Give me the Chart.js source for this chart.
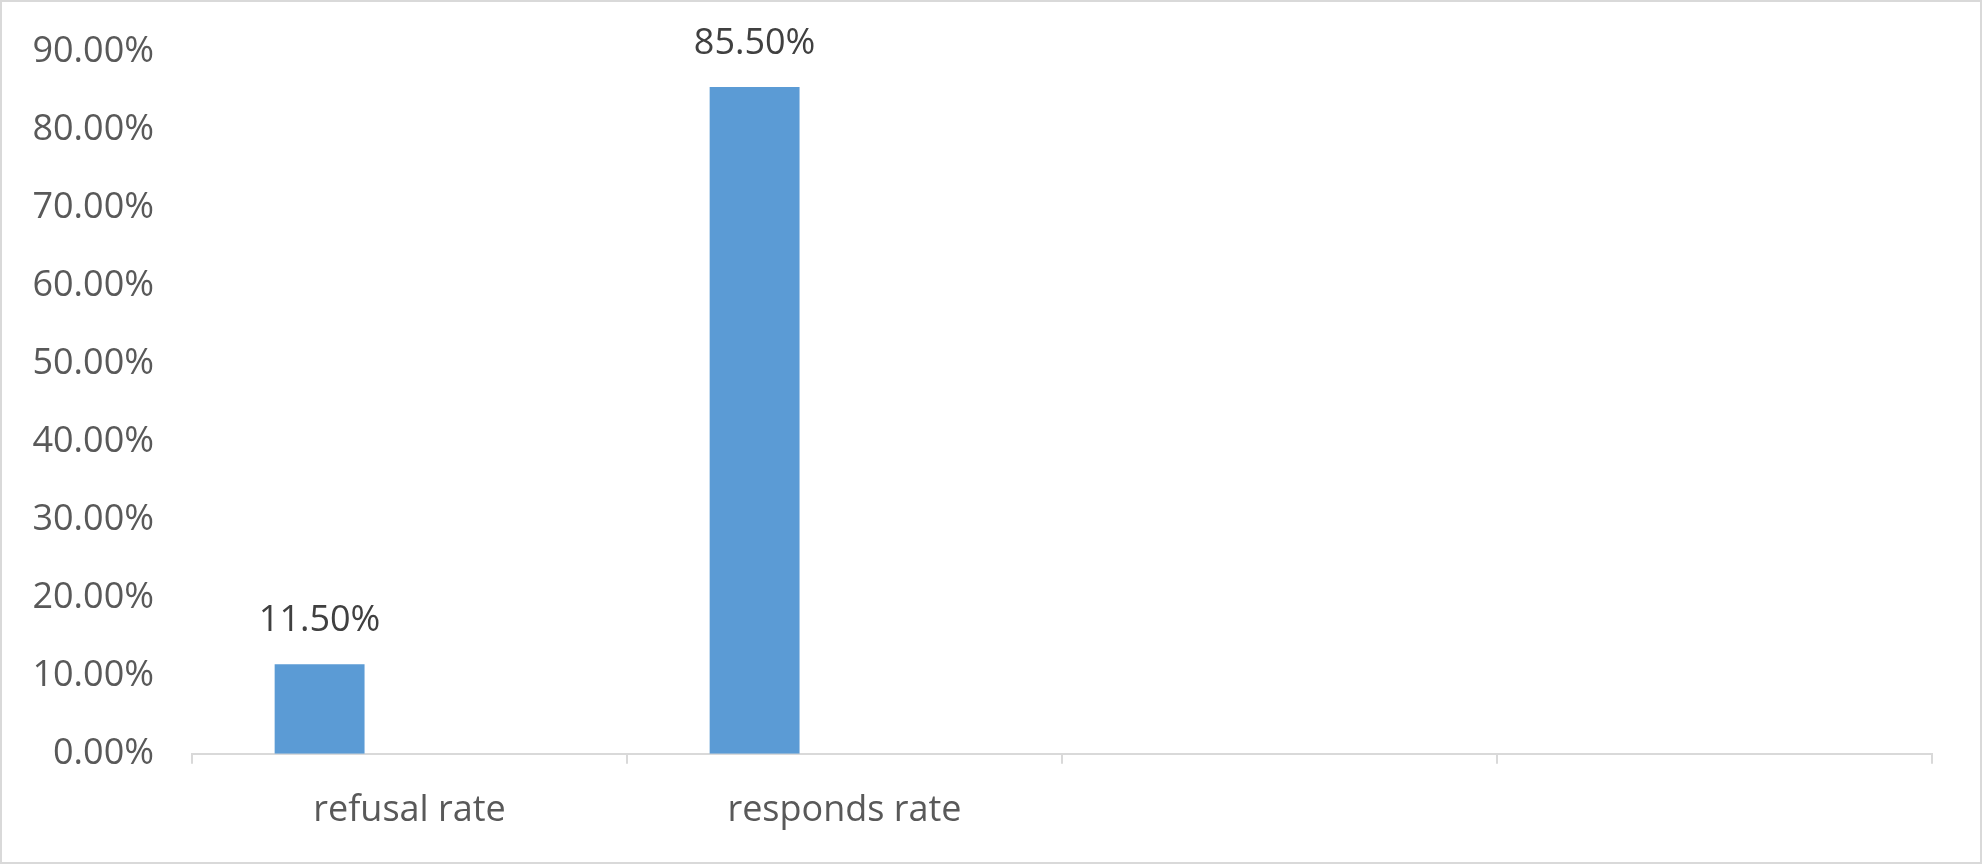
<!DOCTYPE html>
<html>
<head>
<meta charset="utf-8">
<script src="https://cdn.jsdelivr.net/npm/chart.js@4.4.1/dist/chart.umd.min.js"></script>
<style>
  body { margin: 0; background: #fff; }
  #wrap {
    width: 1982px; height: 864px; box-sizing: border-box;
    border: 2px solid #d9d9d9; background: #fff;
  }
  #wrap canvas { display: block; }
</style>
</head>
<body>
<div id="wrap"><canvas id="rate-chart" width="1978" height="860"></canvas></div>
<script>
// chart data
const categories = ['refusal rate', 'responds rate', '', ''];
const rateValues = [0.115, 0.855, null, null];
const emptySeries = [null, null, null, null];
const yTicks = [0, 0.1, 0.2, 0.3, 0.4, 0.5, 0.6, 0.7, 0.8, 0.9];

const barBlue = '#5B9BD5';
const axisGray = '#d9d9d9';
const fontFamily = '"Open Sans", "Noto Sans", sans-serif';

function formatPercent(v) {
  return (v * 100).toFixed(2) + '%';
}

// draws the value above each bar
const barLabels = {
  id: 'barLabels',
  afterDatasetsDraw(chart) {
    const ctx = chart.ctx;
    const meta = chart.getDatasetMeta(0);
    ctx.save();
    ctx.font = '36px ' + fontFamily;
    ctx.fillStyle = '#404040';
    ctx.textAlign = 'center';
    ctx.textBaseline = 'middle';
    meta.data.forEach((bar, i) => {
      const value = rateValues[i];
      if (value === null) return;
      ctx.fillText(formatPercent(value), bar.x, bar.y - 43);
    });
    ctx.restore();
  }
};

const rateChart = new Chart(document.getElementById('rate-chart'), {
  type: 'bar',
  data: {
    labels: categories,
    datasets: [
      { data: rateValues, backgroundColor: barBlue },
      { data: emptySeries, backgroundColor: '#ED7D31' },
      { data: emptySeries, backgroundColor: '#A5A5A5' }
    ]
  },
  options: {
    responsive: false,
    animation: false,
    categoryPercentage: 0.62,
    barPercentage: 1,
    layout: { padding: { top: 50, right: 48, bottom: 5, left: 0 } },
    plugins: {
      legend: { display: false },
      tooltip: { enabled: false }
    },
    scales: {
      x: {
        grid: {
          display: true,
          offset: true,
          drawOnChartArea: false,
          drawTicks: true,
          tickLength: 10,
          color: axisGray,
          lineWidth: 2
        },
        border: { display: true, color: axisGray, width: 2 },
        ticks: {
          color: '#595959',
          padding: 25,
          font: { family: fontFamily, size: 36 }
        }
      },
      y: {
        min: 0,
        max: 0.9,
        afterBuildTicks: scale => {
          scale.ticks = yTicks.map(v => ({ value: v }));
        },
        afterFit: scale => {
          scale.width = 190;
          scale.paddingTop = 0;
          scale.paddingBottom = 0;
        },
        grid: { display: false, drawTicks: false },
        border: { display: false },
        ticks: {
          color: '#595959',
          padding: 38,
          font: { family: fontFamily, size: 36 },
          callback: v => formatPercent(v)
        }
      }
    }
  },
  plugins: [barLabels]
});
</script>
</body>
</html>
